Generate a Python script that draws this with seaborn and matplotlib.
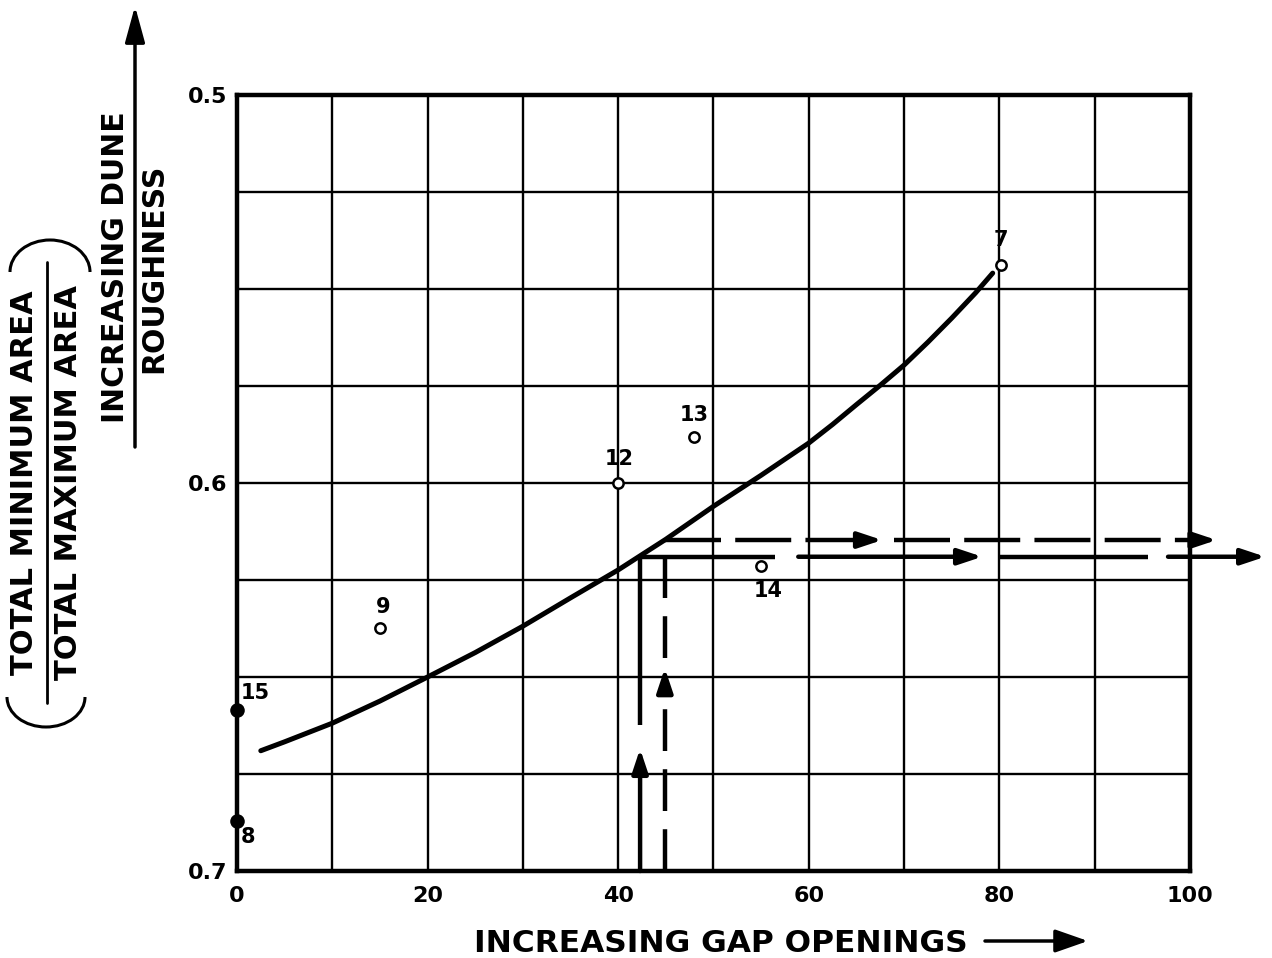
import numpy as np
import pandas as pd
import matplotlib
matplotlib.use("Agg")
from matplotlib import pyplot as plt
from matplotlib.patches import Arc, FancyArrowPatch
from matplotlib.lines import Line2D
import seaborn as sns

# fitted curve
curve_gap = [2.5, 5, 10, 15, 20, 25, 30, 35, 40, 45, 50, 55, 60, 62.5,
             65, 67.5, 70, 72.5, 75, 77.5, 79.3]
curve_ratio = [0.669, 0.6667, 0.6619, 0.6562, 0.650, 0.6437, 0.6369, 0.6296,
               0.6224, 0.6145, 0.606, 0.598, 0.5897, 0.5849, 0.5798, 0.5748,
               0.5696, 0.5637, 0.5575, 0.5510, 0.5459]

# numbered observations
point_ids = ["7", "13", "12", "14", "9", "15", "8"]
point_gap = [80.2, 48.0, 40.0, 55.0, 15.0, 0.0, 0.0]
point_ratio = [0.5438, 0.5882, 0.600, 0.6214, 0.6374, 0.6585, 0.687]
point_filled = [False, False, False, False, False, True, True]

# read-across guide lines
solid_gap, solid_ratio = 42.3, 0.619
dashed_gap, dashed_ratio = 44.9, 0.6147

x_ticks = np.arange(0, 101, 10)
x_labels = ["0", "", "20", "", "40", "", "60", "", "80", "", "100"]
y_ticks = np.arange(0.5, 0.7001, 0.025)
y_labels = ["0.5", "", "", "", "0.6", "", "", "", "0.7"]

sns.set_style("white")
plt.rcParams["font.family"] = ["DejaVu Sans"]
plt.rcParams["font.weight"] = "bold"
plt.rcParams["text.color"] = "black"
plt.rcParams["xtick.color"] = "black"
plt.rcParams["ytick.color"] = "black"

pts = pd.DataFrame({"id": point_ids, "gap": point_gap,
                    "ratio": point_ratio, "filled": point_filled})

fig = plt.figure(figsize=(12.72, 9.58), dpi=100)
ax = fig.add_axes([0.1863, 0.0908, 0.7492, 0.8100])

sns.lineplot(x=curve_gap, y=curve_ratio, ax=ax, color="black", lw=3.6,
             estimator=None, zorder=4)
sns.scatterplot(data=pts[~pts.filled], x="gap", y="ratio", ax=ax, s=55,
                facecolor="white", edgecolor="black", linewidth=1.8, zorder=6)
sns.scatterplot(data=pts[pts.filled], x="gap", y="ratio", ax=ax, s=110,
                color="black", edgecolor="black", linewidth=0, zorder=6,
                clip_on=False)

label_offsets = {"7": (0, 18), "13": (0, 16), "12": (1, 17), "14": (5, -18),
                 "9": (2, 15), "15": (13, 12), "8": (8, -12)}
for _, r in pts.iterrows():
    ax.annotate(r["id"], (r["gap"], r["ratio"]), xytext=label_offsets[r["id"]],
                textcoords="offset points", ha="center", va="center",
                fontsize=15, fontweight="bold", annotation_clip=False)

ax.set_xlim(0, 100)
ax.set_ylim(0.7, 0.5)
ax.set_xticks(x_ticks)
ax.set_xticklabels(x_labels)
ax.set_yticks(y_ticks)
ax.set_yticklabels(y_labels)
ax.tick_params(length=0, labelsize=16, pad=11)
ax.tick_params(axis="y", pad=7)
for lab in ax.get_xticklabels() + ax.get_yticklabels():
    lab.set_fontweight("bold")
ax.grid(True, color="black", lw=1.7)
ax.set_axisbelow(True)
for sp in ax.spines.values():
    sp.set_linewidth(3.2)
    sp.set_color("black")
ax.set_xlabel("")
ax.set_ylabel("")

lw = 3.2
arrow_style = "-|>,head_length=0.72,head_width=0.24"


def arrow(p0, p1):
    ax.annotate("", xy=p1, xytext=p0, annotation_clip=False,
                arrowprops=dict(arrowstyle=arrow_style, color="black", lw=lw,
                                shrinkA=0, shrinkB=0, mutation_scale=20))


def line(xs, ys, dashes=None):
    kw = dict(color="black", lw=lw, clip_on=False, zorder=5,
              solid_capstyle="butt", dash_capstyle="butt")
    if dashes:
        kw["dashes"] = dashes
    ax.plot(xs, ys, **kw)


# solid read-across
arrow((solid_gap, 0.7), (solid_gap, 0.6685))
line([solid_gap, solid_gap], [0.6624, solid_ratio])
line([solid_gap, 56.45], [solid_ratio, solid_ratio])
arrow((58.9, solid_ratio), (78.2, solid_ratio))
line([80.1, 95.6], [solid_ratio, solid_ratio])
arrow((97.7, solid_ratio), (107.9, solid_ratio))

# dashed read-across
line([dashed_gap, dashed_gap], [0.7, 0.6525], dashes=(9.4, 4.1))
arrow((dashed_gap, 0.6530), (dashed_gap, 0.6477))
line([dashed_gap, dashed_gap], [0.6451, dashed_ratio], dashes=(9.4, 4.1))
line([dashed_gap, 65.6], [dashed_ratio, dashed_ratio], dashes=(12.6, 3.2))
arrow((65.6, dashed_ratio), (67.7, dashed_ratio))
line([68.9, 100.7], [dashed_ratio, dashed_ratio], dashes=(12.6, 3.2))
arrow((100.7, dashed_ratio), (102.8, dashed_ratio))

# axis titles
W, H = 1272.0, 958.0
fig.text(721 / W, 1 - 943 / H, "INCREASING GAP OPENINGS", ha="center",
         va="center", fontsize=22.5, fontweight="bold")
fig.add_artist(FancyArrowPatch((985 / W, 1 - 941 / H), (1088 / W, 1 - 941 / H),
                               transform=fig.transFigure, color="black", lw=2.5,
                               arrowstyle="-|>,head_length=1.0,head_width=0.35",
                               mutation_scale=20, shrinkA=0, shrinkB=0))

fig.text(25 / W, 1 - 483 / H, "TOTAL MINIMUM AREA", rotation=90, ha="center",
         va="center", fontsize=22, fontweight="bold")
fig.text(69 / W, 1 - 483 / H, "TOTAL MAXIMUM AREA", rotation=90, ha="center",
         va="center", fontsize=22, fontweight="bold")
fig.add_artist(Line2D([47 / W, 47 / W], [1 - 703 / H, 1 - 262 / H],
                      transform=fig.transFigure, color="black", lw=2))
fig.add_artist(Arc((50 / W, 1 - 272 / H), 80 / W, 64 / H, theta1=0, theta2=180,
                   transform=fig.transFigure, color="black", lw=2.2))
fig.add_artist(Arc((46 / W, 1 - 697 / H), 78 / W, 60 / H, theta1=180, theta2=360,
                   transform=fig.transFigure, color="black", lw=2.2))

fig.text(116 / W, 1 - 267 / H, "INCREASING DUNE", rotation=90, ha="center",
         va="center", fontsize=21.5, fontweight="bold")
fig.text(154 / W, 1 - 268 / H, "ROUGHNESS", rotation=90, ha="center",
         va="center", fontsize=21.5, fontweight="bold")
fig.add_artist(FancyArrowPatch((135 / W, 1 - 447 / H), (135 / W, 1 - 6 / H),
                               transform=fig.transFigure, color="black", lw=2.5,
                               arrowstyle="-|>,head_length=1.1,head_width=0.3",
                               mutation_scale=20, shrinkA=0, shrinkB=0))

fig.savefig("out.png", dpi=100)
